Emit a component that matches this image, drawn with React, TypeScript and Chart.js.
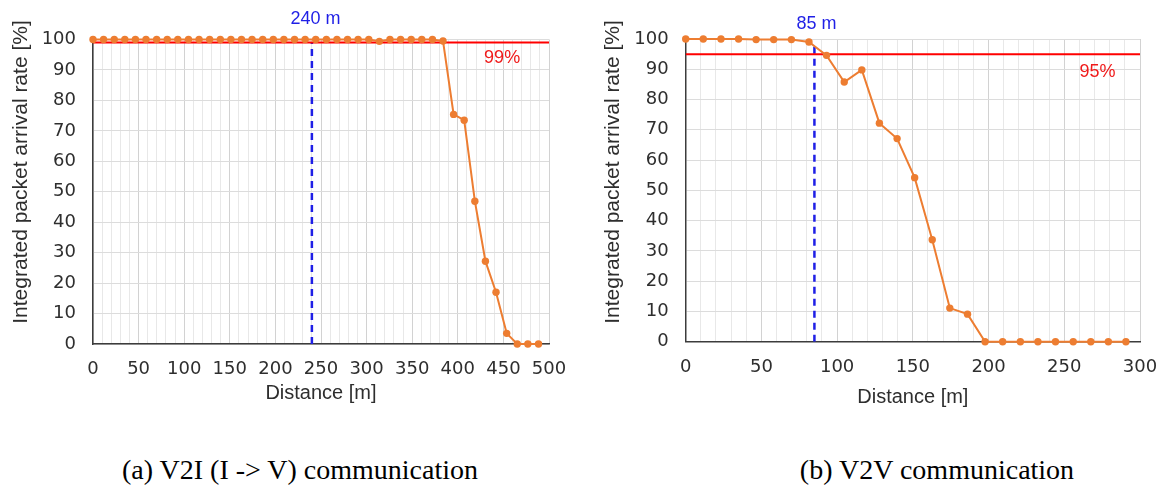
import React, { useEffect, useRef } from 'react';
import { Chart, registerables } from 'chart.js';
Chart.register(...registerables);

// ---- Data: (a) V2I (I -> V) ----
const DIST_A = [
  0, 11.6, 23.3, 34.9, 46.5, 58.1, 69.8, 81.4, 93.0, 104.7, 116.3, 127.9, 139.6, 151.2,
  162.8, 174.4, 186.1, 197.7, 209.3, 221.0, 232.6, 244.2, 255.9, 267.5, 279.1, 290.7,
  302.4, 314.0, 325.6, 337.3, 348.9, 360.5, 372.2, 383.8, 395.4, 407.0, 418.7, 430.3,
  441.9, 453.6, 465.2, 476.8, 488.5,
];
const RATE_A = [
  100, 100, 100, 100, 100, 100, 100, 100, 100, 100, 100, 100, 100, 100,
  100, 100, 100, 100, 100, 100, 100, 100, 100, 100, 100, 100,
  100, 99.4, 100, 100, 100, 100, 100, 99.5, 75.4, 73.5, 46.9, 27.2,
  17.0, 3.5, 0, 0, 0,
];
const THRESHOLD_A = 99; // %
const RANGE_A = 240; // m
const RANGE_TOP_A = 99;
const X_MAX_A = 500;

// ---- Data: (b) V2V ----
const DIST_B = [
  0, 11.6, 23.3, 34.9, 46.5, 58.1, 69.8, 81.4, 93.0, 104.7, 116.3, 127.9, 139.6, 151.2,
  162.8, 174.4, 186.1, 197.7, 209.3, 221.0, 232.6, 244.2, 255.9, 267.5, 279.1, 290.7,
];
const RATE_B = [
  100, 100, 100, 100, 99.8, 99.8, 99.8, 99.0, 94.6, 85.8, 89.8, 72.2, 67.1, 54.2,
  33.7, 11.1, 9.1, 0, 0, 0, 0, 0, 0, 0, 0, 0,
];
const THRESHOLD_B = 95;
const RANGE_B = 85;
const RANGE_TOP_B = 98.5;
const X_MAX_B = 300;

const Y_TITLE = 'Integrated packet arrival rate [%]';
const X_TITLE = 'Distance [m]';
const CAPTION_A = '(a) V2I (I -> V) communication';
const CAPTION_B = '(b) V2V communication';

const ORANGE = '#ED7D31';
const TICK_FONT = '"DejaVu Sans", Verdana, sans-serif';
const SANS = '"Liberation Sans", Arial, sans-serif';

type PanelProps = {
  dist: number[];
  rate: number[];
  threshold: number;
  range: number;
  rangeTop: number;
  xMax: number;
  width: number;
  height: number;
  plotLeft: number;
  plotRight: number;
  plotTop: number;
  plotBottom: number;
  yTitleX: number;
  yTitleY: number;
  xTitlePad: number;
  rangeLabelPos: [number, number];
  threshLabelPos: [number, number];
};

function Panel(p: PanelProps) {
  const ref = useRef<HTMLCanvasElement | null>(null);
  useEffect(() => {
    if (!ref.current) return;
    const points = p.dist.map((x, i) => ({ x, y: p.rate[i] }));
    const labelPlugin = {
      id: 'labels',
      afterDraw(chart: any) {
        const { ctx, scales } = chart;
        ctx.save();
        ctx.font = `18px ${SANS}`;
        ctx.textAlign = 'center';
        ctx.textBaseline = 'middle';
        ctx.fillStyle = '#1f1fe6';
        ctx.fillText(
          `${p.range} m`,
          scales.x.getPixelForValue(p.rangeLabelPos[0]),
          scales.y.getPixelForValue(p.rangeLabelPos[1])
        );
        ctx.fillStyle = '#f01a1a';
        ctx.fillText(
          `${p.threshold}%`,
          scales.x.getPixelForValue(p.threshLabelPos[0]),
          scales.y.getPixelForValue(p.threshLabelPos[1])
        );
        // y-axis title
        ctx.translate(p.yTitleX, p.yTitleY);
        ctx.rotate(-Math.PI / 2);
        ctx.font = `21px ${SANS}`;
        ctx.fillStyle = '#2e2e2e';
        ctx.fillText(Y_TITLE, 0, 0);
        ctx.restore();
      },
    };
    const chart = new Chart(ref.current, {
      type: 'line',
      data: {
        datasets: [
          {
            data: points,
            borderColor: ORANGE,
            backgroundColor: ORANGE,
            borderWidth: 2,
            pointRadius: 3.7,
            pointBorderWidth: 0,
            pointBackgroundColor: ORANGE,
            clip: false as any,
            order: 0,
          },
          {
            data: [
              { x: 0, y: p.threshold },
              { x: p.xMax, y: p.threshold },
            ],
            borderColor: '#ff0000',
            borderWidth: 2,
            pointRadius: 0,
            order: 1,
          },
          {
            data: [
              { x: p.range, y: 0 },
              { x: p.range, y: p.rangeTop },
            ],
            borderColor: '#1f1fe6',
            borderWidth: 2.5,
            borderDash: [7, 5],
            pointRadius: 0,
            order: 2,
          },
        ],
      },
      options: {
        animation: false,
        responsive: false,
        parsing: false as any,
        layout: {
          padding: {
            left: 0,
            top: p.plotTop,
            right: p.width - p.plotRight,
            bottom: 0,
          },
        },
        plugins: { legend: { display: false }, tooltip: { enabled: false } },
        scales: {
          x: {
            type: 'linear',
            min: 0,
            max: p.xMax,
            afterFit: (s: any) => {
              s.height = p.height - p.plotBottom;
              s.paddingLeft = 0;
              s.paddingRight = 0;
            },
            ticks: {
              stepSize: 10,
              autoSkip: false,
              maxRotation: 0,
              padding: 15,
              color: '#2e2e2e',
              font: { family: TICK_FONT, size: 18 },
              callback: (v: any) => (Math.round(v) % 50 === 0 ? String(Math.round(v)) : ''),
            },
            grid: {
              drawTicks: false,
              color: (c: any) =>
                Math.round(c.tick.value) % 50 === 0 ? '#d2d2d2' : '#e8e8e8',
              lineWidth: 1,
            },
            border: { color: '#3c3c3c', width: 1.5 },
            title: {
              display: true,
              text: X_TITLE,
              color: '#2e2e2e',
              font: { family: SANS, size: 20 },
              padding: { top: 0, bottom: p.xTitlePad },
            },
          },
          y: {
            type: 'linear',
            min: 0,
            max: 100,
            afterFit: (s: any) => {
              s.width = p.plotLeft;
              s.paddingTop = 0;
              s.paddingBottom = 0;
            },
            ticks: {
              stepSize: 10,
              padding: 17,
              color: '#2e2e2e',
              font: { family: TICK_FONT, size: 18 },
            },
            grid: { drawTicks: false, color: '#dcdcdc', lineWidth: 1 },
            border: { color: '#3c3c3c', width: 1.5 },
          },
        },
      },
      plugins: [labelPlugin],
    });
    return () => chart.destroy();
  }, []);
  return (
    <canvas
      ref={ref}
      width={p.width}
      height={p.height}
      style={{ width: p.width, height: p.height, display: 'block' }}
    />
  );
}

const captionStyle: React.CSSProperties = {
  position: 'absolute',
  top: 454,
  textAlign: 'center',
  fontFamily: '"Liberation Serif", "Times New Roman", serif',
  fontSize: 28,
  lineHeight: '31px',
  color: '#000',
  whiteSpace: 'nowrap',
};

export default function App() {
  return (
    <div
      style={{
        position: 'absolute',
        left: 0,
        top: 0,
        width: 1163,
        height: 492,
        background: '#fff',
        overflow: 'hidden',
      }}
    >
      <div style={{ position: 'absolute', left: 0, top: 0 }}>
        <Panel
          dist={DIST_A}
          rate={RATE_A}
          threshold={THRESHOLD_A}
          range={RANGE_A}
          rangeTop={RANGE_TOP_A}
          xMax={X_MAX_A}
          width={580}
          height={410}
          plotLeft={93}
          plotRight={549}
          plotTop={39.5}
          plotBottom={344}
          yTitleX={21}
          yTitleY={172}
          xTitlePad={5}
          rangeLabelPos={[244, 106.6]}
          threshLabelPos={[448.6, 93.8]}
        />
      </div>
      <div style={{ position: 'absolute', left: 580, top: 0 }}>
        <Panel
          dist={DIST_B}
          rate={RATE_B}
          threshold={THRESHOLD_B}
          range={RANGE_B}
          rangeTop={RANGE_TOP_B}
          xMax={X_MAX_B}
          width={583}
          height={410}
          plotLeft={105.7}
          plotRight={560}
          plotTop={39}
          plotBottom={341.7}
          yTitleX={33}
          yTitleY={172}
          xTitlePad={1}
          rangeLabelPos={[86.4, 105]}
          threshLabelPos={[272, 89.1]}
        />
      </div>
      <div style={{ ...captionStyle, left: 0, width: 600 }}>{CAPTION_A}</div>
      <div style={{ ...captionStyle, left: 700, width: 474 }}>{CAPTION_B}</div>
    </div>
  );
}
